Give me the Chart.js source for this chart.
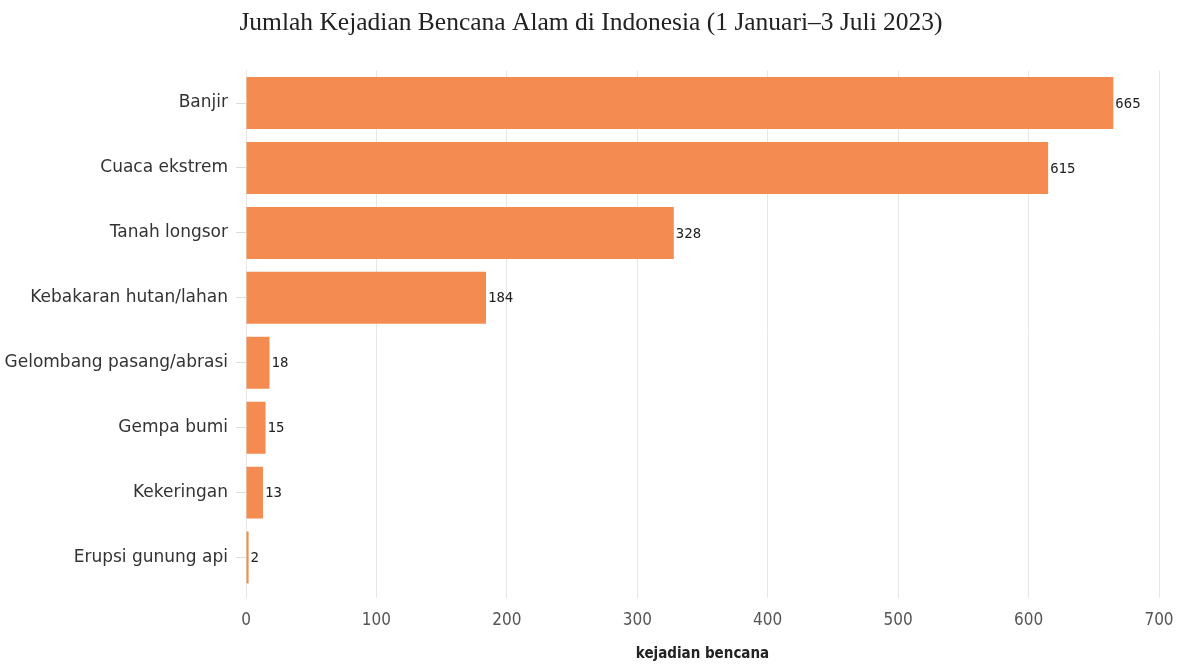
<!DOCTYPE html>
<html>
<head>
<meta charset="utf-8">
<script src="https://cdn.jsdelivr.net/npm/chart.js@4"></script>
<style>
    html, body { margin: 0; padding: 0; background: #fff; }
    #wrap { width: 1182px; height: 665px; }
</style>
</head>
<body>
<div id="wrap"><canvas id="bencanaChart" width="1182" height="665"></canvas></div>
<script>
// Data
const categories = [
    'Banjir',
    'Cuaca ekstrem',
    'Tanah longsor',
    'Kebakaran hutan/lahan',
    'Gelombang pasang/abrasi',
    'Gempa bumi',
    'Kekeringan',
    'Erupsi gunung api'
];
const jumlahKejadian = [665, 615, 328, 184, 18, 15, 13, 2];
const xTicks = [0, 100, 200, 300, 400, 500, 600, 700];

const barColor = 'rgb(244,139,80)';

// Plugin to write the value at the end of each bar
const valueLabels = {
    id: 'valueLabels',
    afterDatasetsDraw(chart) {
        const ctx = chart.ctx;
        const meta = chart.getDatasetMeta(0);
        ctx.save();
        ctx.font = '14px "DejaVu Sans Mono", monospace';
        ctx.fillStyle = '#222';
        ctx.textAlign = 'left';
        ctx.textBaseline = 'middle';
        meta.data.forEach((bar, i) => {
            ctx.fillText(String(jumlahKejadian[i]), bar.x + 2, bar.y + 1);
        });
        ctx.restore();
    }
};

const ctx = document.getElementById('bencanaChart').getContext('2d');
new Chart(ctx, {
    type: 'bar',
    data: {
        labels: categories,
        datasets: [{
            label: 'kejadian bencana',
            data: jumlahKejadian,
            backgroundColor: barColor,
            borderWidth: 0,
            barPercentage: 0.8,
            categoryPercentage: 1.0
        }]
    },
    options: {
        indexAxis: 'y',
        responsive: false,
        animation: false,
        layout: { padding: { left: 0, right: 0, top: 0, bottom: 0 } },
        plugins: {
            legend: { display: false },
            tooltip: { enabled: false },
            title: {
                display: true,
                text: 'Jumlah Kejadian Bencana Alam di Indonesia (1 Januari\u20133 Juli 2023)',
                color: '#222',
                font: { family: '"Liberation Serif", "Times New Roman", serif', size: 25.5, weight: 'normal' },
                padding: { top: 8, bottom: 32 }
            }
        },
        scales: {
            x: {
                min: 0,
                max: 700,
                afterBuildTicks: (scale) => {
                    scale.ticks = xTicks.map(v => ({ value: v }));
                },
                afterFit: (scale) => {
                    scale.height = 75;
                    scale.paddingRight = 23;
                },
                border: { display: false },
                grid: { color: '#e6e6e6', tickLength: 8 },
                ticks: {
                    color: '#555',
                    padding: 12,
                    font: { family: '"DejaVu Sans Condensed", "Liberation Sans Narrow", sans-serif', size: 17 }
                },
                title: {
                    display: true,
                    text: 'kejadian bencana',
                    color: '#222',
                    font: { family: '"DejaVu Sans Condensed", sans-serif', size: 15, weight: 'bold' },
                    padding: { top: 4, bottom: 2 }
                }
            },
            y: {
                afterFit: (scale) => { scale.width = 246; },
                border: { display: true, color: '#e6e6e6' },
                grid: { drawOnChartArea: false, offset: false, color: '#dddddd', tickLength: 10 },
                ticks: {
                    color: '#333',
                    padding: 8,
                    font: { family: '"DejaVu Sans", Verdana, sans-serif', size: 17 }
                }
            }
        }
    },
    plugins: [valueLabels]
});
</script>
</body>
</html>
